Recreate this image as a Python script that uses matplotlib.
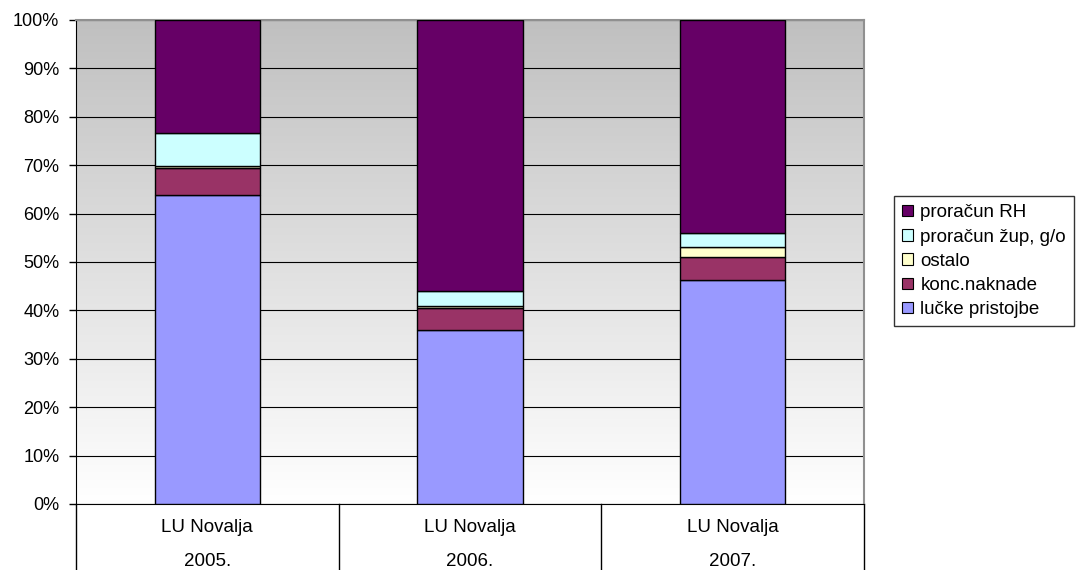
import numpy as np
import matplotlib.pyplot as plt
from matplotlib.patches import Patch
from matplotlib.colors import LinearSegmentedColormap
import matplotlib.transforms as mtransforms

plt.rcParams['font.family'] = ['Liberation Sans', 'DejaVu Sans']

# podaci (udio u %)
kategorije = ['LU Novalja', 'LU Novalja', 'LU Novalja']
godine = ['2005.', '2006.', '2007.']
serije = ['lučke pristojbe', 'konc.naknade', 'ostalo', 'proračun žup, g/o', 'proračun RH']
lucke_pristojbe = [63.9, 35.9, 46.2]
konc_naknade = [5.5, 4.5, 4.8]
ostalo = [0.4, 0.5, 2.1]
proracun_zup = [6.9, 3.2, 2.8]
proracun_rh = [23.3, 55.9, 44.1]
boje = ['#9999FF', '#993366', '#FFFFCC', '#CCFFFF', '#660066']

vrijednosti = [lucke_pristojbe, konc_naknade, ostalo, proracun_zup, proracun_rh]

fig = plt.figure(figsize=(10.84, 5.70), dpi=100)
ax = fig.add_axes([76 / 1084, 1 - 504 / 570, (864 - 76) / 1084, (504 - 20) / 570])

# pozadina s gradijentom (siva gore, bijela dolje)
cm = LinearSegmentedColormap.from_list('g', ['#FFFFFF', '#C0C0C0'])
ax.imshow(np.linspace(0, 1, 256).reshape(-1, 1), extent=[-0.5, 2.5, 0, 100],
          aspect='auto', zorder=0, origin='lower', cmap=cm)

x = np.arange(len(godine))
dno = np.zeros(len(godine))
for ime, v, c in zip(serije, vrijednosti, boje):
    ax.bar(x, v, bottom=dno, width=0.4, color=c, edgecolor='#000000',
           linewidth=1.0, zorder=3, label=ime)
    dno += np.array(v)

ax.set_xlim(-0.5, 2.5)
ax.set_ylim(0, 100)
ax.set_yticks(np.arange(0, 101, 10))
ax.set_yticklabels([f'{t}%' for t in range(0, 101, 10)], fontsize=13)
ax.yaxis.grid(True, color='#000000', linewidth=0.8, zorder=1)
ax.set_axisbelow(True)
ax.tick_params(axis='y', length=5, width=1, color='#000000', pad=7)
ax.set_xticks([])

for s in ['top', 'right']:
    ax.spines[s].set_color('#909090')
    ax.spines[s].set_linewidth(1.5)
ax.spines['left'].set_color('#000000')
ax.spines['bottom'].set_color('#000000')

# tablica kategorija ispod osi
trans = mtransforms.blended_transform_factory(ax.transData, ax.transAxes)
for xb in [-0.5, 0.5, 1.5, 2.5]:
    ax.plot([xb, xb], [0, -0.2], color='#000000', linewidth=1.0,
            transform=trans, clip_on=False)
for i in range(len(godine)):
    ax.text(x[i], -24 / 484, kategorije[i], transform=trans, ha='center',
            va='center', fontsize=13.5)
    ax.text(x[i], -58 / 484, godine[i], transform=trans, ha='center',
            va='center', fontsize=13.5)

rucke = [Patch(facecolor=c, edgecolor='#000000', linewidth=0.8, label=s)
         for s, c in zip(serije, boje)][::-1]
leg = fig.legend(handles=rucke, loc='upper left',
                 bbox_to_anchor=(894 / 1084, 1 - 196 / 570), fontsize=13.5,
                 frameon=True, fancybox=False, handlelength=0.55,
                 handleheight=0.55, handletextpad=0.4, labelspacing=0.38,
                 borderpad=0.45, borderaxespad=0)
leg.get_frame().set_edgecolor('#000000')
leg.get_frame().set_linewidth(1.0)

fig.savefig('out.png', dpi=100)
